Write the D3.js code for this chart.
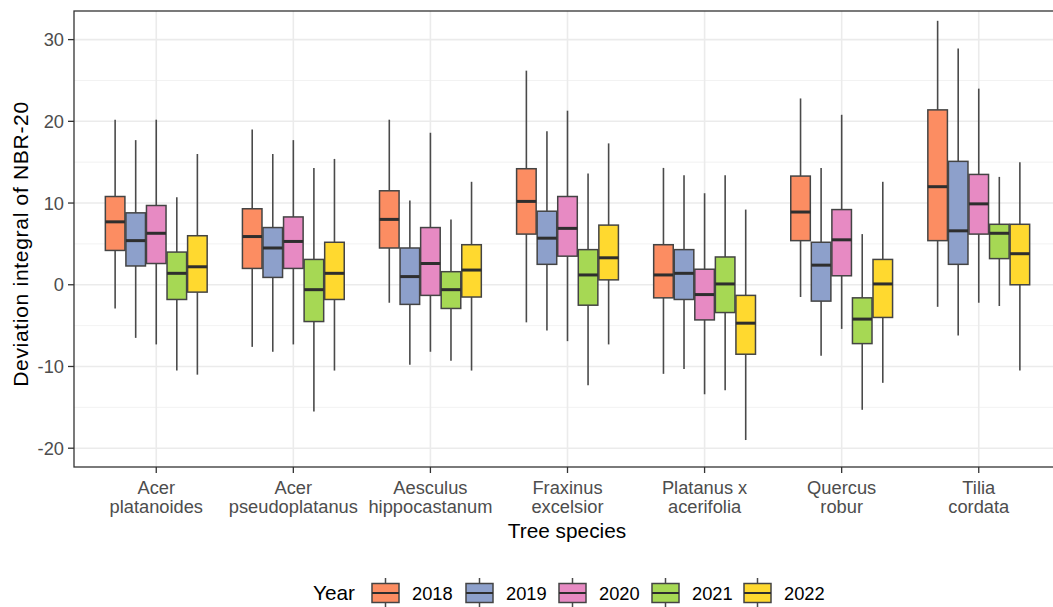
<!DOCTYPE html>
<html>
<head>
<meta charset="utf-8">
<script src="https://cdn.jsdelivr.net/npm/d3@7"></script>
<style>
  body { margin: 0; background: #fff; }
  svg { display: block; font-family: "Liberation Sans", Arial, sans-serif; }
</style>
</head>
<body>
<svg id="chart" width="1053" height="607"></svg>
<script>
// ---- data ----
const species = [
  ["Acer", "platanoides"],
  ["Acer", "pseudoplatanus"],
  ["Aesculus", "hippocastanum"],
  ["Fraxinus", "excelsior"],
  ["Platanus x", "acerifolia"],
  ["Quercus", "robur"],
  ["Tilia", "cordata"]
];
const years = ["2018", "2019", "2020", "2021", "2022"];
const yearColors = ["#FC8D62", "#8DA0CB", "#E78AC3", "#A6D854", "#FFD92F"];
const yTicks = [-20, -10, 0, 10, 20, 30];
const yMinorTicks = [-15, -5, 5, 15, 25];

// rows: species, columns: years
const whiskerLow = [
  [-2.9, -6.5, -7.3, -10.5, -11.0],
  [-7.6, -8.2, -7.3, -15.5, -10.5],
  [-2.2, -9.8, -8.2, -9.3, -10.5],
  [-4.6, -5.6, -6.9, -12.3, -7.3],
  [-10.9, -10.3, -13.4, -12.9, -19.0],
  [-1.5, -8.7, -5.4, -15.3, -12.0],
  [-2.7, -6.2, -2.2, -2.6, -10.5]
];
const q1 = [
  [4.2, 2.3, 2.6, -1.8, -0.9],
  [2.0, 0.9, 2.0, -4.5, -1.8],
  [4.5, -2.4, -1.3, -2.9, -1.5],
  [6.2, 2.5, 3.5, -2.5, 0.6],
  [-1.6, -1.8, -4.3, -3.4, -8.5],
  [5.4, -2.0, 1.1, -7.2, -4.0],
  [5.4, 2.5, 6.2, 3.2, 0.0]
];
const medians = [
  [7.7, 5.4, 6.3, 1.4, 2.2],
  [5.9, 4.5, 5.3, -0.6, 1.4],
  [8.0, 1.0, 2.6, -0.6, 1.8],
  [10.2, 5.7, 6.9, 1.2, 3.3],
  [1.2, 1.4, -1.2, 0.1, -4.7],
  [8.9, 2.4, 5.5, -4.2, 0.1],
  [12.0, 6.6, 9.9, 6.3, 3.8]
];
const q3 = [
  [10.8, 8.8, 9.7, 4.0, 6.0],
  [9.3, 7.0, 8.3, 3.1, 5.2],
  [11.5, 4.5, 7.0, 1.6, 4.9],
  [14.2, 9.0, 10.8, 4.3, 7.3],
  [4.9, 4.3, 1.9, 3.4, -1.3],
  [13.3, 5.2, 9.2, -1.6, 3.1],
  [21.4, 15.1, 13.5, 7.4, 7.4]
];
const whiskerHigh = [
  [20.2, 17.7, 20.2, 10.7, 16.0],
  [19.0, 16.0, 17.7, 14.3, 15.4],
  [20.2, 10.3, 18.6, 8.0, 12.6],
  [26.2, 18.8, 21.3, 13.6, 17.3],
  [14.3, 13.4, 11.2, 13.4, 9.2],
  [22.8, 14.3, 20.8, 6.2, 12.6],
  [32.3, 28.9, 24.0, 13.2, 15.0]
];

// ---- layout ----
const svg = d3.select("#chart");
const panel = { left: 74, top: 11, right: 1061, bottom: 467 };

const x = d3.scalePoint()
  .domain(species.map((d, i) => i))
  .range([panel.left, panel.right])
  .padding(0.6);
const step = x.step();
const dodge = d3.scaleBand()
  .domain(years)
  .range([-0.375 * step, 0.375 * step])
  .padding(0);
const y = d3.scaleLinear().domain([-22.3, 33.5]).range([panel.bottom, panel.top]);

svg.append("defs").append("clipPath").attr("id", "pclip")
  .append("rect")
  .attr("x", panel.left).attr("y", panel.top)
  .attr("width", panel.right - panel.left).attr("height", panel.bottom - panel.top);

const g = svg.append("g").attr("clip-path", "url(#pclip)");

// background & grid
g.append("rect")
  .attr("x", panel.left).attr("y", panel.top)
  .attr("width", panel.right - panel.left).attr("height", panel.bottom - panel.top)
  .attr("fill", "#fff");

g.selectAll(".yminor").data(yMinorTicks).enter().append("line")
  .attr("x1", panel.left).attr("x2", panel.right)
  .attr("y1", d => y(d)).attr("y2", d => y(d))
  .attr("stroke", "#F0F0F0").attr("stroke-width", 0.9);

g.selectAll(".ymajor").data(yTicks).enter().append("line")
  .attr("x1", panel.left).attr("x2", panel.right)
  .attr("y1", d => y(d)).attr("y2", d => y(d))
  .attr("stroke", "#EBEBEB").attr("stroke-width", 1.6);

g.selectAll(".xmajor").data(x.domain()).enter().append("line")
  .attr("x1", d => x(d)).attr("x2", d => x(d))
  .attr("y1", panel.top).attr("y2", panel.bottom)
  .attr("stroke", "#EBEBEB").attr("stroke-width", 1.6);

// boxes
const boxes = [];
species.forEach((s, i) => {
  years.forEach((yr, j) => {
    boxes.push({
      si: i, yi: j,
      lo: whiskerLow[i][j], q1: q1[i][j], med: medians[i][j],
      q3: q3[i][j], hi: whiskerHigh[i][j]
    });
  });
});

const bw = dodge.bandwidth();
const bg = g.selectAll(".box").data(boxes).enter().append("g");
const cx = d => x(d.si) + dodge(years[d.yi]) + bw / 2;

bg.append("line")
  .attr("x1", cx).attr("x2", cx)
  .attr("y1", d => y(d.hi)).attr("y2", d => y(d.q3))
  .attr("stroke", "#4A4A4A").attr("stroke-width", 1.6);
bg.append("line")
  .attr("x1", cx).attr("x2", cx)
  .attr("y1", d => y(d.q1)).attr("y2", d => y(d.lo))
  .attr("stroke", "#4A4A4A").attr("stroke-width", 1.6);
bg.append("rect")
  .attr("x", d => cx(d) - bw / 2 + 0.5)
  .attr("width", bw - 1)
  .attr("y", d => y(d.q3))
  .attr("height", d => y(d.q1) - y(d.q3))
  .attr("fill", d => yearColors[d.yi])
  .attr("stroke", "#444").attr("stroke-width", 1.5);
bg.append("line")
  .attr("x1", d => cx(d) - bw / 2 + 0.5).attr("x2", d => cx(d) + bw / 2 - 0.5)
  .attr("y1", d => y(d.med)).attr("y2", d => y(d.med))
  .attr("stroke", "#2E2E2E").attr("stroke-width", 3);

// panel border
svg.append("rect")
  .attr("x", panel.left).attr("y", panel.top)
  .attr("width", panel.right - panel.left).attr("height", panel.bottom - panel.top)
  .attr("fill", "none").attr("stroke", "#333").attr("stroke-width", 1.3);

// y axis ticks & labels
const yAxis = svg.append("g");
yAxis.selectAll("line").data(yTicks).enter().append("line")
  .attr("x1", panel.left - 6).attr("x2", panel.left)
  .attr("y1", d => y(d)).attr("y2", d => y(d))
  .attr("stroke", "#333").attr("stroke-width", 1.3);
yAxis.selectAll("text").data(yTicks).enter().append("text")
  .attr("x", panel.left - 10).attr("y", d => y(d))
  .attr("dy", "0.36em")
  .attr("text-anchor", "end")
  .attr("font-size", 18.3).attr("fill", "#4D4D4D")
  .text(d => d);

// x axis ticks & labels
const xAxis = svg.append("g");
xAxis.selectAll("line").data(x.domain()).enter().append("line")
  .attr("x1", d => x(d)).attr("x2", d => x(d))
  .attr("y1", panel.bottom).attr("y2", panel.bottom + 6)
  .attr("stroke", "#333").attr("stroke-width", 1.3);
const xl = xAxis.selectAll("text").data(x.domain()).enter().append("text")
  .attr("text-anchor", "middle")
  .attr("font-size", 18.3).attr("fill", "#4D4D4D");
xl.append("tspan").attr("x", d => x(d)).attr("y", 494).text(d => species[d][0]);
xl.append("tspan").attr("x", d => x(d)).attr("y", 513).text(d => species[d][1]);

// axis titles
svg.append("text")
  .attr("x", 567).attr("y", 538)
  .attr("text-anchor", "middle").attr("font-size", 20.8).attr("fill", "#000")
  .text("Tree species");
svg.append("text")
  .attr("transform", `translate(28, ${(panel.top + panel.bottom) / 2 + 5}) rotate(-90)`)
  .attr("text-anchor", "middle").attr("font-size", 21).attr("fill", "#000")
  .attr("letter-spacing", 0.7)
  .text("Deviation integral of NBR-20");

// legend
const legY = 593;
const leg = svg.append("g");
leg.append("text").attr("x", 313).attr("y", legY).attr("dy", "0.36em")
  .attr("font-size", 20.8).attr("fill", "#000").text("Year");
const keyX = [372, 466, 559, 652, 744];
const kw = 27, kh = 19;
years.forEach((yr, j) => {
  const kx = keyX[j];
  const kc = kx + kw / 2;
  leg.append("line").attr("x1", kc).attr("x2", kc)
    .attr("y1", legY - 15).attr("y2", legY + 15)
    .attr("stroke", "#4A4A4A").attr("stroke-width", 1.5);
  leg.append("rect").attr("x", kx).attr("y", legY - kh / 2)
    .attr("width", kw).attr("height", kh)
    .attr("fill", yearColors[j]).attr("stroke", "#444").attr("stroke-width", 1.5);
  leg.append("line").attr("x1", kx).attr("x2", kx + kw)
    .attr("y1", legY).attr("y2", legY)
    .attr("stroke", "#2E2E2E").attr("stroke-width", 2);
  leg.append("text").attr("x", kx + kw + 13).attr("y", legY).attr("dy", "0.36em")
    .attr("font-size", 18.3).attr("fill", "#000").text(yr);
});
</script>
</body>
</html>
